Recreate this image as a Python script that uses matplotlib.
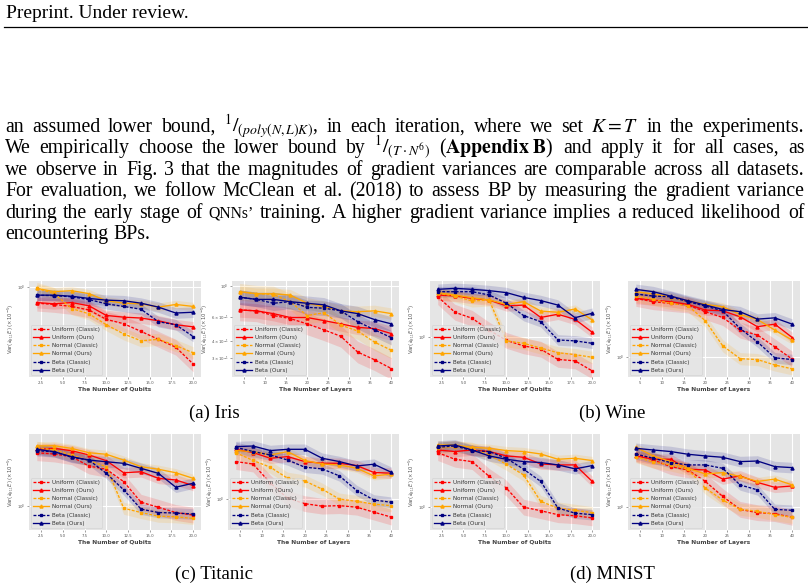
import numpy as np
import matplotlib
matplotlib.use("Agg")
import matplotlib.pyplot as plt
from matplotlib.lines import Line2D
from matplotlib.ticker import FixedLocator, FixedFormatter, NullLocator, NullFormatter

W, H = 808, 586

# ---------------- data ----------------
qubits = [2, 4, 6, 8, 10, 12, 14, 16, 18, 20]
layers = [4, 8, 12, 16, 20, 24, 28, 32, 36, 40]
qubit_ticks = [2.5, 5.0, 7.5, 10.0, 12.5, 15.0, 17.5, 20.0]
qubit_ticklabels = ["2.5", "5.0", "7.5", "10.0", "12.5", "15.0", "17.5", "20.0"]
layer_ticks = [5, 10, 15, 20, 25, 30, 35, 40]
layer_ticklabels = ["5", "10", "15", "20", "25", "30", "35", "40"]

series_labels = ["Uniform (Classic)", "Uniform (Ours)", "Normal (Classic)",
                 "Normal (Ours)", "Beta (Classic)", "Beta (Ours)"]

# Iris - qubits
iris_q_uc = [0.69, 0.67, 0.64, 0.59, 0.475, 0.43, 0.36, 0.30, 0.25, 0.17]
iris_q_uo = [0.70, 0.68, 0.70, 0.65, 0.52, 0.50, 0.49, 0.46, 0.42, 0.40]
iris_q_nc = [0.97, 0.86, 0.61, 0.54, 0.42, 0.34, 0.29, 0.30, 0.26, 0.22]
iris_q_no = [0.97, 0.90, 0.92, 0.86, 0.73, 0.69, 0.68, 0.63, 0.67, 0.64]
iris_q_bc = [0.83, 0.82, 0.80, 0.75, 0.68, 0.64, 0.60, 0.45, 0.42, 0.32]
iris_q_bo = [0.83, 0.83, 0.81, 0.77, 0.74, 0.73, 0.69, 0.63, 0.55, 0.56]
# Iris - layers
iris_l_uc = [0.67, 0.66, 0.61, 0.58, 0.53, 0.48, 0.43, 0.33, 0.29, 0.25]
iris_l_uo = [0.67, 0.66, 0.63, 0.59, 0.59, 0.56, 0.53, 0.50, 0.49, 0.45]
iris_l_nc = [0.91, 0.88, 0.87, 0.77, 0.61, 0.64, 0.52, 0.47, 0.39, 0.34]
iris_l_no = [0.91, 0.88, 0.88, 0.86, 0.75, 0.71, 0.66, 0.65, 0.66, 0.63]
iris_l_bc = [0.83, 0.80, 0.75, 0.77, 0.70, 0.69, 0.66, 0.55, 0.48, 0.42]
iris_l_bo = [0.83, 0.80, 0.80, 0.77, 0.75, 0.73, 0.66, 0.63, 0.57, 0.53]
# Wine - qubits
wine_q_uc = [2.55, 1.78, 1.55, 1.18, 0.93, 0.82, 0.76, 0.60, 0.58, 0.46]
wine_q_uo = [2.65, 2.59, 2.45, 2.36, 2.06, 2.10, 1.58, 1.70, 1.51, 1.12]
wine_q_nc = [2.75, 2.59, 2.31, 2.36, 0.92, 0.87, 0.78, 0.70, 0.67, 0.63]
wine_q_no = [2.80, 2.65, 2.49, 2.36, 2.14, 2.27, 1.83, 1.78, 1.92, 1.49]
wine_q_bc = [2.86, 2.86, 2.86, 2.65, 2.19, 1.65, 1.43, 0.94, 0.92, 0.87]
wine_q_bo = [3.02, 3.09, 3.02, 2.93, 2.80, 2.51, 2.33, 2.10, 1.57, 1.74]
# Wine - layers
wine_l_uc = [3.83, 3.55, 3.41, 3.29, 2.82, 2.47, 1.85, 1.65, 1.26, 0.95]
wine_l_uo = [3.83, 3.69, 3.55, 3.34, 2.93, 2.88, 2.51, 2.00, 2.12, 1.56]
wine_l_nc = [4.04, 3.74, 3.41, 3.24, 2.29, 1.29, 0.96, 0.94, 0.83, 0.76]
wine_l_no = [4.47, 4.24, 3.98, 3.61, 3.34, 3.16, 2.65, 2.36, 1.85, 1.47]
wine_l_bc = [4.24, 4.04, 3.98, 3.55, 3.21, 2.88, 1.92, 1.41, 0.98, 0.94]
wine_l_bo = [4.71, 4.47, 4.04, 3.63, 3.29, 2.97, 2.82, 2.38, 2.45, 2.12]
# Titanic - qubits
tit_q_uc = [3.41, 3.31, 3.11, 2.51, 2.33, 1.75, 1.09, 0.97, 0.86, 0.81]
tit_q_uo = [3.69, 3.77, 3.57, 3.24, 2.84, 2.15, 2.20, 1.89, 1.82, 1.60]
tit_q_nc = [3.86, 3.63, 3.24, 2.84, 2.47, 0.95, 0.86, 0.79, 0.78, 0.75]
tit_q_no = [3.98, 4.01, 3.77, 3.41, 3.29, 2.88, 2.47, 2.33, 2.15, 1.89]
tit_q_bc = [3.57, 3.49, 3.07, 2.88, 2.12, 1.45, 0.93, 0.86, 0.85, 0.83]
tit_q_bo = [3.69, 3.49, 3.11, 2.88, 2.77, 2.67, 2.38, 2.12, 1.54, 1.69]
# Titanic - layers
tit_l_uc = [2.38, 2.25, 1.45, 1.02, 0.90, 0.85, 0.86, 0.83, 0.74, 0.66]
tit_l_uo = [3.16, 2.93, 2.57, 2.67, 2.38, 2.29, 2.29, 2.17, 1.85, 1.82]
tit_l_nc = [2.93, 2.44, 2.09, 1.62, 1.52, 1.26, 1.00, 0.95, 0.89, 0.86]
tit_l_no = [3.07, 3.00, 2.77, 3.00, 2.44, 2.25, 2.20, 2.04, 1.71, 1.78]
tit_l_bc = [3.31, 3.00, 2.77, 2.47, 2.09, 2.01, 1.71, 1.22, 0.98, 0.93]
tit_l_bo = [3.36, 3.41, 3.07, 3.16, 3.16, 2.57, 2.38, 2.15, 2.24, 1.86]
# MNIST - qubits
mn_q_uc = [3.52, 3.02, 2.86, 2.03, 1.55, 1.00, 0.92, 0.84, 0.82, 0.78]
mn_q_uo = [3.74, 3.61, 3.74, 3.61, 3.26, 3.16, 2.71, 2.65, 2.65, 1.81]
mn_q_nc = [3.89, 4.04, 3.89, 3.34, 2.69, 2.10, 1.14, 0.98, 0.93, 0.88]
mn_q_no = [4.20, 4.20, 3.98, 3.89, 3.69, 3.61, 3.41, 3.02, 3.09, 2.93]
mn_q_bc = [3.98, 4.10, 3.69, 3.61, 3.09, 2.40, 1.81, 0.98, 0.87, 0.84]
mn_q_bo = [4.10, 4.20, 3.74, 3.26, 3.02, 2.86, 2.80, 2.65, 2.42, 2.61]
# MNIST - layers
mn_l_uc = [3.41, 2.97, 2.55, 2.36, 1.81, 1.28, 0.95, 0.88, 0.86, 0.79]
mn_l_uo = [3.26, 3.02, 3.02, 2.40, 2.36, 1.91, 2.06, 1.77, 1.58, 1.63]
mn_l_nc = [3.21, 2.82, 2.65, 2.40, 1.55, 1.18, 0.95, 0.91, 0.84, 0.79]
mn_l_no = [3.98, 3.26, 2.86, 2.45, 2.15, 2.22, 2.03, 1.81, 1.91, 1.67]
mn_l_bc = [3.41, 3.09, 2.80, 2.65, 2.65, 2.45, 1.67, 1.49, 0.95, 0.93]
mn_l_bo = [3.89, 3.74, 3.61, 3.39, 3.26, 3.16, 2.86, 2.90, 2.55, 2.49]

# y-limits of each panel (data units, x10^-5)
iris_q_ylim = (0.126, 1.15)
iris_l_ylim = (0.217, 1.09)
wine_q_ylim = (0.40, 3.66)
wine_l_ylim = (0.63, 5.71)
tit_q_ylim = (0.575, 5.25)
tit_l_ylim = (0.49, 4.5)
mn_q_ylim = (0.59, 5.41)
mn_l_ylim = (0.59, 5.41)

captions = ["(a) Iris", "(b) Wine", "(c) Titanic", "(d) MNIST"]

# ---------------- style ----------------
colors = ["#FF0000", "#FF0000", "#FFA500", "#FFA500", "#000080", "#000080"]
styles = [(0, (2.2, 1.2)), "-", (0, (2.2, 1.2)), "-", (0, (2.2, 1.2)), "-"]
markers = ["s", "^", "s", "^", "s", "^"]
msizes = [1.5, 2.2, 1.5, 2.2, 1.5, 2.2]
spreads = [1.2, 1.13, 1.15, 1.1, 1.13, 1.13]

fig = plt.figure(figsize=(W / 100, H / 100), dpi=100)
fig.patch.set_facecolor("white")

def add_ax(l, r, t, b):
    return fig.add_axes([l / W, 1 - b / H, (r - l) / W, (b - t) / H])

panels = [
    ((29, 201, 281, 377), qubits, [iris_q_uc, iris_q_uo, iris_q_nc, iris_q_no, iris_q_bc, iris_q_bo], iris_q_ylim, "q"),
    ((232, 399, 281, 377), layers, [iris_l_uc, iris_l_uo, iris_l_nc, iris_l_no, iris_l_bc, iris_l_bo], iris_l_ylim, "l"),
    ((430, 600, 281, 377), qubits, [wine_q_uc, wine_q_uo, wine_q_nc, wine_q_no, wine_q_bc, wine_q_bo], wine_q_ylim, "q"),
    ((628, 800, 281, 377), layers, [wine_l_uc, wine_l_uo, wine_l_nc, wine_l_no, wine_l_bc, wine_l_bo], wine_l_ylim, "l"),
    ((29, 201, 434, 530), qubits, [tit_q_uc, tit_q_uo, tit_q_nc, tit_q_no, tit_q_bc, tit_q_bo], tit_q_ylim, "q"),
    ((228, 399, 434, 530), layers, [tit_l_uc, tit_l_uo, tit_l_nc, tit_l_no, tit_l_bc, tit_l_bo], tit_l_ylim, "l"),
    ((430, 600, 434, 530), qubits, [mn_q_uc, mn_q_uo, mn_q_nc, mn_q_no, mn_q_bc, mn_q_bo], mn_q_ylim, "q"),
    ((628, 800, 434, 530), layers, [mn_l_uc, mn_l_uo, mn_l_nc, mn_l_no, mn_l_bc, mn_l_bo], mn_l_ylim, "l"),
]

tick_color = "#555555"
for i, (rect, xs, ys_list, ylim, kind) in enumerate(panels):
    ax = add_ax(*rect)
    ax.set_facecolor("#E5E5E5")
    for s in ax.spines.values():
        s.set_visible(False)
    ax.set_axisbelow(True)
    ax.grid(True, which="major", color="white", lw=0.8)
    for k, ys in enumerate(ys_list):
        ys = np.asarray(ys, dtype=float)
        ax.fill_between(xs, ys / spreads[k], ys * spreads[k], color=colors[k],
                        alpha=0.14, lw=0)
        ax.plot(xs, ys, color=colors[k], ls=styles[k], marker=markers[k],
                ms=msizes[k], lw=0.95, label=series_labels[k])
    ax.set_yscale("log")
    ax.set_ylim(*ylim)
    ax.yaxis.set_major_locator(FixedLocator([1.0]))
    ax.yaxis.set_major_formatter(FixedFormatter([r"$\mathdefault{10^{0}}$"]))
    if i == 1:
        ax.yaxis.set_minor_locator(FixedLocator([0.3, 0.4, 0.6]))
        ax.yaxis.set_minor_formatter(FixedFormatter([r"$\mathdefault{3\times10^{-1}}$",
                                                     r"$\mathdefault{4\times10^{-1}}$",
                                                     r"$\mathdefault{6\times10^{-1}}$"]))
    else:
        ax.yaxis.set_minor_locator(NullLocator())
        ax.yaxis.set_minor_formatter(NullFormatter())
    if kind == "q":
        ax.set_xlim(1.1, 20.9)
        ax.set_xticks(qubit_ticks)
        ax.set_xticklabels(qubit_ticklabels)
        ax.set_xlabel("The Number of Qubits", fontsize=4.2, fontweight="bold",
                      color="#444444", labelpad=1.5)
    else:
        ax.set_xlim(2.2, 41.8)
        ax.set_xticks(layer_ticks)
        ax.set_xticklabels(layer_ticklabels)
        ax.set_xlabel("The Number of Layers", fontsize=4.2, fontweight="bold",
                      color="#444444", labelpad=1.5)
    ax.tick_params(which="both", labelsize=2.8, colors=tick_color, length=1.2,
                   width=0.4, pad=1.5)
    ax.tick_params(axis="y", which="both", pad=1.0)
    ax.set_ylabel(r"Var$(\partial_{\theta_{1,1}}E)$ $(\times 10^{-5})$",
                  fontsize=3.8, color=tick_color, labelpad=1.0)
    leg = ax.legend(loc="lower left", fontsize=4.1, handlelength=2.7,
                    labelspacing=0.55, borderpad=0.45, borderaxespad=0.3,
                    handletextpad=0.6, framealpha=0.85, facecolor="#E5E5E5",
                    edgecolor="#CCCCCC", fancybox=True)
    leg.get_frame().set_linewidth(0.4)
    for t in leg.get_texts():
        t.set_color("#333333")

# captions
cap_pos = [(214, 418), (612, 418), (214, 579), (612, 579)]
for txt, (cx, cy) in zip(captions, cap_pos):
    fig.text(cx / W, 1 - cy / H, txt, ha="center", va="baseline",
             family="Liberation Serif", fontsize=13.5)

# header
fig.text(6 / W, 1 - 18 / H, "Preprint. Under review.", ha="left", va="baseline",
         family="Liberation Serif", fontsize=14)
fig.add_artist(Line2D([4 / W, 1.0], [1 - 27 / H, 1 - 27 / H], color="black", lw=0.9))

# paragraph (justified)
para_lines = [
    ["an", "assumed", "lower", "bound,", r"$^{1}/_{(poly(N,L)K)}$,", "in", "each",
     "iteration,", "where", "we", "set", r"$K = T$", "in", "the", "experiments."],
    ["We", "empirically", "choose", "the", "lower", "bound", "by",
     r"$^{1}/_{(T\cdot N^{6})}$", r"($\mathbf{Appendix\ B}$)", "and", "apply", "it",
     "for", "all", "cases,", "as"],
    ["we", "observe", "in", "Fig.", "3", "that", "the", "magnitudes", "of", "gradient",
     "variances", "are", "comparable", "across", "all", "datasets."],
    ["For", "evaluation,", "we", "follow", "McClean", "et", "al.", "(2018)", "to",
     "assess", "BP", "by", "measuring", "the", "gradient", "variance"],
    ["during", "the", "early", "stage", "of", "QNNs’", "training.", "A", "higher",
     "gradient", "variance", "implies", "a", "reduced", "likelihood", "of"],
    ["encountering", "BPs."],
]
baselines = [132, 153, 175, 196, 218, 239]
left_px, right_px = 5, 804
fs = 14.2
renderer = fig.canvas.get_renderer()
for li, (words, by) in enumerate(zip(para_lines, baselines)):
    objs = []
    for w in words:
        size = fs * 0.8 if w.startswith("QNN") else fs
        objs.append(fig.text(0, 1 - by / H, w, ha="left", va="baseline",
                             family="Liberation Serif", fontsize=size,
                             math_fontfamily="stix"))
    widths = [o.get_window_extent(renderer=renderer).width for o in objs]
    if li < len(para_lines) - 1:
        gap = (right_px - left_px - sum(widths)) / (len(objs) - 1)
    else:
        gap = fs * 100 / 72 * 0.25
    x = left_px
    for o, wd in zip(objs, widths):
        o.set_x(round(x) / W)
        x += wd + gap

fig.savefig("out.png", dpi=100)
